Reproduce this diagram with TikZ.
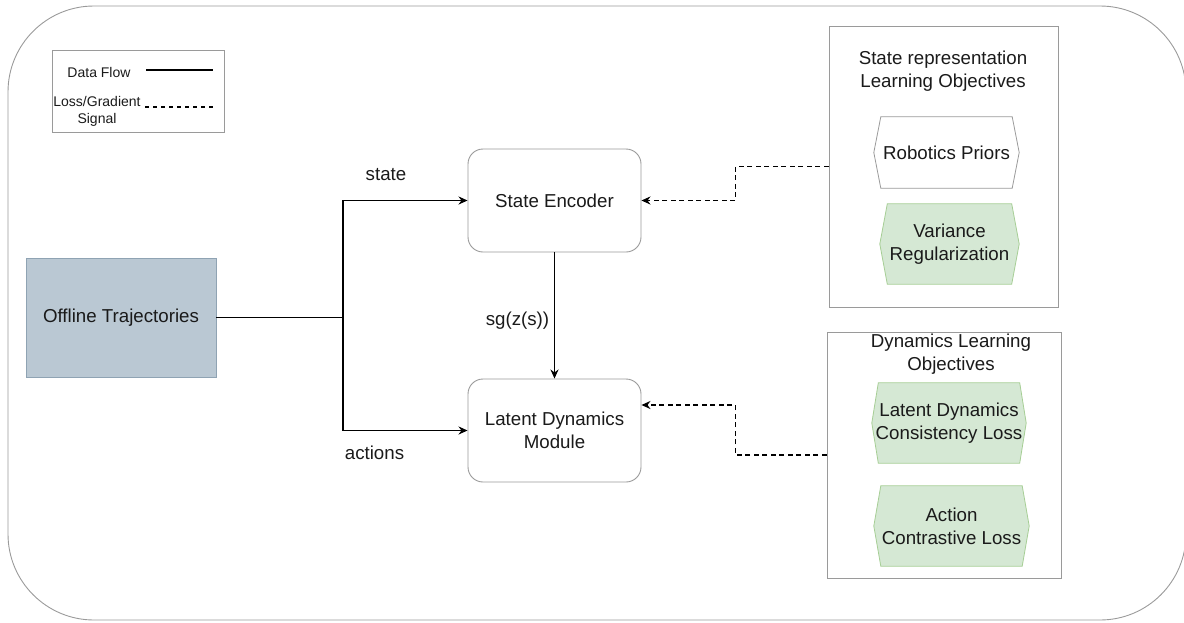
\documentclass[tikz,border=0pt]{standalone}
\usepackage{fontspec}
\setmainfont{Liberation Sans}
\usetikzlibrary{arrows.meta}
\pgfdeclarelayer{bg}
\pgfsetlayers{bg,main}
\definecolor{frame}{HTML}{9A9A9A}
\definecolor{ink}{HTML}{1A1A1A}
\definecolor{trajfill}{HTML}{BAC8D3}
\definecolor{trajline}{HTML}{8FA3B3}
\definecolor{greenfill}{HTML}{D5E8D4}
\definecolor{greenline}{HTML}{A6CE95}
\tikzset{
  mainfont/.style={font=\fontsize{18.7}{23}\selectfont, text=ink},
  smallfont/.style={font=\fontsize{14}{17}\selectfont, text=ink},
  panel/.style={draw=frame, line width=0.9pt, inner sep=0pt},
  module/.style={panel, fill=white, rounded corners=15pt, mainfont, align=center},
  trajbox/.style={draw=trajline, line width=0.9pt, fill=trajfill, inner sep=0pt, mainfont},
  hexlabel/.style={inner sep=0pt, mainfont, align=center},
  hexwhite/.style={draw=frame, line width=0.8pt, fill=white},
  hexgreen/.style={draw=greenline, line width=0.8pt, fill=greenfill},
  flow/.style={draw=black, line width=1.6pt, -{Stealth[length=9pt,width=8pt]}},
  flowline/.style={draw=black, line width=1.6pt},
  signal/.style={draw=black, line width=1.6pt, dash pattern=on 5pt off 3.5pt, -{Stealth[length=9pt,width=8pt]}},
  signalline/.style={draw=black, line width=1.3pt, dash pattern=on 4pt off 4pt},
  lbl/.style={inner sep=0pt, mainfont},
}
% hexagon with flat top and bottom drawn behind a node, #2 = inset of the tips
\newcommand{\hexbehind}[3]{%
  \begin{pgfonlayer}{bg}
    \draw[#3] ([xshift=#2pt]#1.north west) -- ([xshift=-#2pt]#1.north east) -- (#1.east)
      -- ([xshift=-#2pt]#1.south east) -- ([xshift=#2pt]#1.south west) -- (#1.west) -- cycle;
  \end{pgfonlayer}}
\begin{document}
\begin{tikzpicture}[x=1pt, y=-1pt]
\useasboundingbox (0,0) rectangle (1184,622);
\begin{scope}
  \clip (0,0) rectangle (1184,622);
  % outer frame
  \begin{pgfonlayer}{bg}
    \draw[frame, line width=0.9pt, rounded corners=86pt] (8,6) rectangle (1186,620);
  \end{pgfonlayer}
\end{scope}

% legend
\node[panel, minimum width=172pt, minimum height=82pt] (legend) at (138,91) {};
\node[smallfont, inner sep=0pt] (lgflow) at (99,72) {Data Flow};
\node[smallfont, inner sep=0pt, align=center] (lgloss) at (97,111) {Loss/Gradient\\Signal};
\coordinate (lgA) at (146,70);
\coordinate (lgB) at (213,70);
\coordinate (lgC) at (145,107);
\coordinate (lgD) at (214,107);
\draw[flowline] (lgA) -- (lgB);
\draw[signalline] (lgC) -- (lgD);

% data source and modules
\node[trajbox, minimum width=190pt, minimum height=119pt] (traj) at (121,317.5) {Offline Trajectories};
\node[module, minimum width=173pt, minimum height=103pt] (enc) at (554.5,200.5) {State Encoder};
\node[module, minimum width=173pt, minimum height=103pt] (dyn) at (554.5,430.5) {Latent Dynamics\\Module};

% objective panels
\node[panel, minimum width=229pt, minimum height=281pt] (repbox) at (943.5,166.5) {};
\node[lbl, align=center] (reptitle) at (943,71) {State representation\\Learning Objectives};
\node[hexlabel, minimum width=145pt, minimum height=71pt] (prior) at (946.5,152.5) {Robotics Priors};
\node[hexlabel, minimum width=139pt, minimum height=80pt] (vreg) at (949.5,244) {Variance\\Regularization};
\hexbehind{prior}{7}{hexwhite}
\hexbehind{vreg}{7.5}{hexgreen}

\node[panel, minimum width=234pt, minimum height=246pt] (dynbox) at (944,455) {};
\node[lbl, align=center] (dyntitle) at (951,354) {Dynamics Learning\\Objectives};
\node[hexlabel, minimum width=154pt, minimum height=80pt] (cons) at (949,423) {Latent Dynamics\\Consistency Loss};
\node[hexlabel, minimum width=155pt, minimum height=80pt] (contr) at (951.5,526) {Action\\Contrastive Loss};
\hexbehind{cons}{6.5}{hexgreen}
\hexbehind{contr}{7}{hexgreen}

% data flow
\coordinate (split) at (343,317.5);
\draw[flowline] (traj.east) -- (split);
\draw[flow] (split) |- (enc.west);
\draw[flow] (split) |- (dyn.west);
\draw[flow] (enc.south) -- (dyn.north);
\node[lbl] (lstate) at (386,175) {state};
\node[lbl] (lact) at (374.5,453) {actions};
\node[lbl] (lsg) at (517.5,321) {sg(z(s))};

% loss / gradient signals
\draw[signal] (repbox.west) -- (735.5,166.5) |- (enc.east);
\draw[signal] (dynbox.west) -- (735.5,455) |- ([yshift=25.5pt]dyn.east);
\end{tikzpicture}
\end{document}
